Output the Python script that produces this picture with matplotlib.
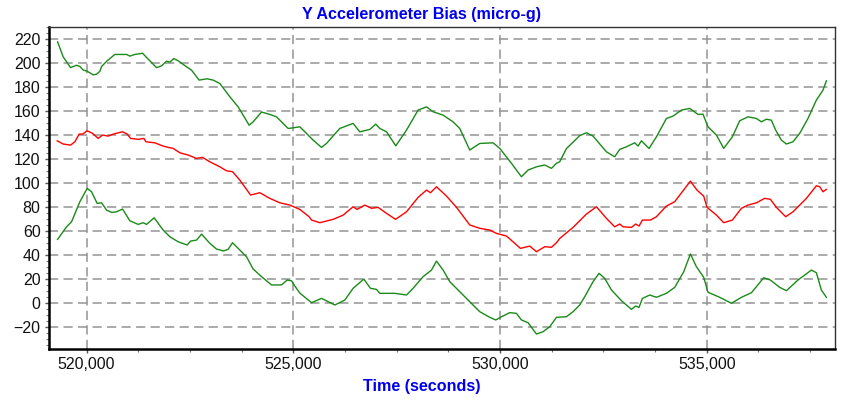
import matplotlib
matplotlib.use("Agg")
import matplotlib.pyplot as plt
from matplotlib.ticker import FuncFormatter, MultipleLocator, AutoMinorLocator

plt.rcParams['font.family'] = ['Liberation Sans', 'DejaVu Sans']

# upper green trace
upper_t = [519299, 519434, 519613, 519758, 519838, 519918, 520015, 520160, 520242, 520322,
           520363, 520498, 520684, 520967, 521047, 521168, 521354, 521451, 521693, 521814,
           521934, 522014, 522111, 522215, 522418, 522539, 522723, 522916, 523061, 523223,
           523465, 523666, 523932, 524028, 524232, 524432, 524594, 524875, 524996, 525158,
           525479, 525682, 525803, 526125, 526446, 526608, 526850, 526995, 527092, 527254,
           527479, 527738, 528018, 528221, 528381, 528623, 528864, 529026, 529268, 529510,
           529832, 529994, 530277, 530518, 530678, 530881, 531082, 531244, 531365, 531445,
           531606, 531928, 532090, 532250, 532574, 532774, 532895, 533057, 533258, 533338,
           533420, 533604, 533783, 534024, 534184, 534387, 534588, 534788, 534909, 535030,
           535233, 535410, 535620, 535797, 535998, 536201, 536322, 536442, 536563, 536667,
           536805, 536926, 537086, 537248, 537448, 537651, 537811, 537893]
upper_v = [217.5, 205, 196, 198, 197, 194, 193, 190, 190.5, 193,
           197, 201.7, 207, 207, 205.6, 207, 208, 204.5, 196, 197.5,
           201.4, 200.6, 203.6, 201.7, 196.7, 193.9, 185.6, 186.7, 185.6, 182.8,
           171.7, 163.3, 148, 150.8, 159, 157, 155, 145.3, 145.8, 146.7,
           135.6, 129.5, 132.8, 145.3, 149.5, 142.5, 144.5, 148.9, 145.3, 142.5,
           130.8, 143.9, 160.6, 163.3, 159.2, 156.4, 150.8, 145.3, 127.3, 132.8,
           133.3, 128.7, 116.2, 105, 110.6, 113.3, 114.8, 112, 116.2, 117.6,
           128.5, 139.3, 141.7, 138.9, 125.8, 121.7, 127.8, 130, 133.3, 130.6,
           135, 128.6, 138.3, 153.6, 155.6, 160.6, 162, 157, 157.2, 146.7,
           139.8, 128.7, 138.3, 151.7, 155, 153.6, 150.8, 153, 152.2, 143.9,
           135.6, 132.3, 134.2, 141.2, 153.6, 168.9, 177.2, 185]

# red (middle) trace
mid_t = [519289, 519434, 519613, 519717, 519821, 519903, 520015, 520145, 520280, 520387,
         520522, 520643, 520870, 520982, 521064, 521248, 521386, 521434, 521652, 521852,
         521973, 522094, 522256, 522457, 522660, 522805, 522981, 523223, 523385, 523530,
         523707, 523966, 524190, 524432, 524674, 524916, 525158, 525382, 525441, 525641,
         525963, 526205, 526446, 526543, 526729, 526891, 527051, 527254, 527472, 527738,
         528018, 528221, 528318, 528463, 528705, 528947, 529268, 529510, 529752, 529914,
         530156, 530494, 530719, 530881, 531082, 531244, 531365, 531445, 531669, 531766,
         532090, 532332, 532574, 532774, 532895, 532975, 533178, 533282, 533362, 533444,
         533638, 533783, 534024, 534225, 534426, 534605, 534764, 534926, 535006, 535233,
         535410, 535620, 535838, 535998, 536201, 536401, 536539, 536684, 536909, 537086,
         537410, 537651, 537731, 537811, 537893]
mid_v = [135, 132.3, 131.4, 134.2, 140.6, 140.6, 143.3, 141.2, 137, 139.8,
         138.9, 140.6, 142.5, 140.6, 137, 136.2, 137, 134.2, 133.3, 130.6,
         129.5, 128.7, 125, 123.1, 120.3, 121.2, 117.5, 113.3, 110, 109.2,
         102.2, 89.8, 91.7, 87, 83.3, 81.4, 77.8, 71.7, 68.9, 66.7,
         69.5, 73, 80, 77.8, 81.4, 78.7, 79.5, 74.5, 69.5, 75.8,
         87.8, 93.9, 91.7, 96.7, 88.9, 79.5, 64.8, 62, 60.6, 57.8,
         55.6, 45.3, 47.2, 42.5, 46.7, 46.2, 50, 53.6, 60, 62.8,
         73.9, 80, 70.3, 63.3, 65.6, 63.3, 62.8, 65.6, 63.9, 68.9,
         68.9, 71.7, 80.6, 84.2, 93.3, 101.4, 93.9, 88.9, 79.5, 73.1,
         66.7, 68.9, 78.7, 81.4, 83.3, 87, 86.2, 79.5, 71.7, 75.8,
         87, 97.5, 96.7, 92.5, 94.5]

# lower green trace
lower_t = [519299, 519516, 519637, 519838, 520015, 520121, 520256, 520363, 520484, 520605,
           520725, 520870, 521047, 521248, 521369, 521451, 521635, 521852, 522014, 522215,
           522433, 522515, 522660, 522781, 522981, 523143, 523240, 523303, 523424, 523530,
           523869, 524028, 524232, 524473, 524715, 524851, 524957, 525037, 525158, 525441,
           525682, 526004, 526246, 526446, 526705, 526867, 527012, 527092, 527455, 527738,
           527897, 528139, 528342, 528463, 528623, 528785, 529026, 529268, 529510, 529752,
           529897, 530035, 530235, 530397, 530518, 530678, 530881, 531041, 531203, 531365,
           531606, 531766, 531928, 532049, 532250, 532395, 532532, 532695, 532936, 533178,
           533282, 533362, 533444, 533621, 533783, 534024, 534225, 534443, 534605, 534750,
           534926, 535030, 535313, 535596, 535838, 536080, 536377, 536539, 536764, 536926,
           537207, 537531, 537651, 537772, 537893]
lower_v = [52.8, 63.3, 67.5, 84.2, 95.3, 92.5, 82.8, 83.3, 77.2, 75.3,
           75.8, 78.1, 68.3, 65.3, 66.7, 65.3, 70.8, 60.6, 55, 50.8,
           48.1, 51.4, 52.2, 57.2, 49.5, 44.7, 43.9, 43.1, 44.5, 50,
           38.3, 28.1, 21.7, 14.8, 14.8, 18.9, 18.3, 13.9, 8, 0,
           3.6, -1.9, 2.2, 12, 19.7, 12, 11.1, 7.8, 7.8, 6.4,
           12, 21.7, 27.2, 34.7, 27.2, 17.5, 9.2, 0.8, -7.5, -12.2,
           -14.4, -11.7, -8.3, -8.9, -14.4, -16.7, -26.1, -24.2, -20, -12.2,
           -11.7, -7.5, -1.9, 5, 17.5, 24.5, 20.3, 10.6, 1.7, -5.5,
           -2.8, -3.9, 3.6, 6.4, 4.5, 7.8, 12.8, 25.8, 40.6, 30,
           21.2, 8.7, 4.5, -0.5, 4.5, 8.3, 20.8, 18.9, 12.8, 10,
           18.9, 27.2, 25, 10.6, 4.5]

fig = plt.figure(figsize=(8.44, 4.01), dpi=100)
ax = fig.add_axes([0.058, 0.13, 0.931, 0.803])

green = '#1a8a1a'
ax.plot(upper_t, upper_v, color=green, lw=1.0)
ax.plot(mid_t, mid_v, color='#ff0000', lw=1.0)
ax.plot(lower_t, lower_v, color=green, lw=1.0)

ax.set_xlim(519090, 538095)
ax.set_ylim(-38.5, 230)

ax.xaxis.set_major_locator(MultipleLocator(5000))
ax.xaxis.set_minor_locator(AutoMinorLocator(4))
ax.yaxis.set_major_locator(MultipleLocator(20))
ax.yaxis.set_minor_locator(AutoMinorLocator(4))
ax.xaxis.set_major_formatter(FuncFormatter(lambda v, p: f"{v:,.0f}"))

ax.grid(True, which='major', color='#939393', linestyle=(0, (6, 3.5)), lw=1.1)
ax.tick_params(axis='both', which='major', labelsize=11.5, length=3, width=1,
               color='#555555', pad=3, labelcolor='#111111')
ax.tick_params(axis='both', which='minor', length=2, width=0.8, color='#777777')

for side in ['left', 'bottom']:
    ax.spines[side].set_linewidth(1.8)
    ax.spines[side].set_color('black')
for side in ['top', 'right']:
    ax.spines[side].set_linewidth(1.0)
    ax.spines[side].set_color('#333333')

fig.text(0.5, 0.965, 'Y Accelerometer Bias (micro-g)', ha='center', va='center',
         color='#0000ee', fontsize=11.6, fontweight='bold')
fig.text(0.5, 0.035, 'Time (seconds)', ha='center', va='center',
         color='#0000ee', fontsize=11.6, fontweight='bold')

fig.savefig('out.png', dpi=100)
